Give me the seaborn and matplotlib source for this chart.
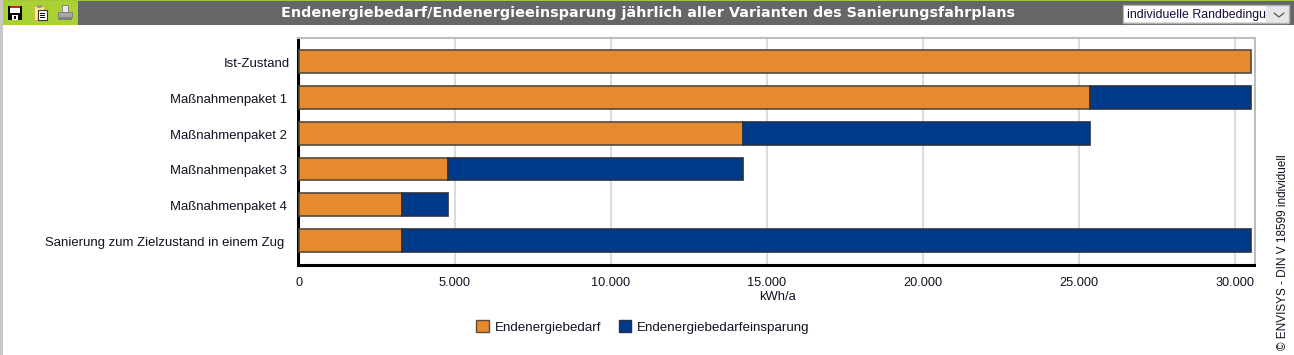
import matplotlib
matplotlib.use("Agg")
import matplotlib.pyplot as plt
from matplotlib.patches import Patch, Rectangle
from matplotlib.ticker import FuncFormatter
from matplotlib.transforms import ScaledTranslation
import pandas as pd
import seaborn as sns

varianten = ["Ist-Zustand", "Maßnahmenpaket 1", "Maßnahmenpaket 2", "Maßnahmenpaket 3",
             "Maßnahmenpaket 4", "Sanierung zum Zielzustand in einem Zug"]
bedarf = [30510, 25340, 14240, 4775, 3317, 3317]
einsparung = [0, 5170, 11100, 9465, 1458, 27193]
xticks = [0, 5000, 10000, 15000, 20000, 25000, 30000]
# labels sitzen im original nicht ganz buendig (pixel)
label_shift = [3, 0, 0, 0, 0, -2]

ORANGE = "#e58a2e"
BLUE = "#003a8a"
W, H = 1294, 355

sns.set_theme(style="white")
plt.rcParams["font.family"] = ["Liberation Sans", "DejaVu Sans"]

df = pd.DataFrame({"variante": varianten, "bedarf": bedarf, "einsparung": einsparung})

fig = plt.figure(figsize=(W / 100, H / 100), dpi=100)
ax = fig.add_axes([297.5 / W, 1 - 265 / H, (1254.5 - 297.5) / W, (265 - 38) / H])

sns.barplot(data=df, y="variante", x="bedarf", color=ORANGE, saturation=1, width=0.64,
            edgecolor="#55483a", linewidth=1.2, ax=ax, zorder=3)
sns.barplot(data=df[df.einsparung > 0], y="variante", x="einsparung", left=df.bedarf[df.einsparung > 0],
            color=BLUE, saturation=1, width=0.64, edgecolor="#25324a", linewidth=1.2, ax=ax, zorder=3)

ax.set_xlim(-48, 30625)
ax.set_ylim(5.68, -0.656)
ax.set_xticks(xticks)
ax.xaxis.set_major_formatter(FuncFormatter(lambda v, p: f"{int(v):,}".replace(",", ".")))
ax.grid(axis="x", color="#dcdcdc", linewidth=1.5, zorder=0)
ax.set_axisbelow(True)
ax.tick_params(axis="x", length=4, width=1.5, color="#dcdcdc", pad=5, labelsize=9.2, labelcolor="#111122")
ax.tick_params(axis="y", length=0, pad=7.8, labelsize=9.45, labelcolor="#111122")
ax.set_xlabel("kWh/a", fontsize=9.4, color="#111122")
ax.xaxis.set_label_coords(0.502, -0.113)
ax.set_ylabel("")

for lab, dx in zip(ax.get_yticklabels(), label_shift):
    lab.set_transform(lab.get_transform() + ScaledTranslation(dx / 100, -1 / 100, fig.dpi_scale_trans))

for s in ["top", "right"]:
    ax.spines[s].set_color("#bdbdbd")
    ax.spines[s].set_linewidth(1.5)
for s in ["left", "bottom"]:
    ax.spines[s].set_color("black")
    ax.spines[s].set_linewidth(2.2)

handles = [Patch(facecolor=ORANGE, edgecolor="#5a4a38", label="Endenergiebedarf"),
           Patch(facecolor=BLUE, edgecolor="#25324a", label="Endenergiebedarfeinsparung")]
fig.legend(handles=handles, loc="center", bbox_to_anchor=(643 / W, 1 - 327 / H), ncol=2, frameon=False,
           fontsize=9.6, handlelength=0.93, handleheight=0.93, columnspacing=1.3, handletextpad=0.45,
           labelcolor="#111122")

# kopfleiste in pixelkoordinaten
bg = fig.add_axes([0, 0, 1, 1], zorder=5)
bg.set_xlim(0, W)
bg.set_ylim(H, 0)
bg.axis("off")
bg.patch.set_alpha(0)


def rect(x, y, w, h, **kw):
    kw.setdefault("linewidth", 0)
    bg.add_patch(Rectangle((x, y), w, h, **kw))


rect(0, 0, W, 1, facecolor="#a0c83c")
rect(0, 0, 2.5, H, facecolor="#c8c8c8")
rect(3, 1, 75, 24, facecolor="#a9d134")
rect(78, 1, W - 78, 24, facecolor="#666666")

# speichern
rect(8, 6, 14, 14, facecolor="black")
rect(10, 6, 10, 2, facecolor="#d02020")
rect(10, 8, 10, 5, facecolor="white")
rect(12, 15, 6, 5, facecolor="white")
rect(14, 16, 2, 3, facecolor="black")
# zwischenablage
rect(34, 6, 10, 14, facecolor="#ffe79a", edgecolor="#d8b850", linewidth=0.8)
rect(36.5, 5, 5, 3, facecolor="#9a9a9a")
rect(38, 10, 9, 10, facecolor="white", edgecolor="#333333", linewidth=0.8)
for yy in [12.5, 14.5, 16.5]:
    rect(40, yy, 5, 1, facecolor="black")
# drucker
rect(62, 5, 6, 7, facecolor="#e8e8e8", edgecolor="#888888", linewidth=0.7)
rect(58, 12, 14, 5, facecolor="#a8a8a8", edgecolor="#808080", linewidth=0.7)
rect(58, 18, 14, 2, facecolor="#808080")

bg.text(648, 13, "Endenergiebedarf/Endenergieeinsparung jährlich aller Varianten des Sanierungsfahrplans",
        ha="center", va="center", color="white", fontsize=10.35, fontweight="bold", family="DejaVu Sans")

# auswahlfeld
rect(1123, 4.5, 166, 18, facecolor="#e6e6e6", edgecolor="#b0b0b0", linewidth=1)
rect(1124, 5.5, 142, 16, facecolor="white")
t = bg.text(1127, 15, "individuelle Randbedingungen", ha="left", va="center", color="#1a0a3a",
            fontsize=8.95, clip_on=True)
t.set_clip_path(Rectangle((1124, 5.5), 142, 16, transform=bg.transData))
bg.plot([1274, 1279, 1284], [13, 17, 13], color="#555555", linewidth=0.9)

bg.text(1283, 350, "© ENVISYS - DIN V 18599 individuell", rotation=90, ha="center", va="bottom",
        color="#111122", fontsize=8.45)

fig.savefig("out.png", dpi=100, facecolor="white")
